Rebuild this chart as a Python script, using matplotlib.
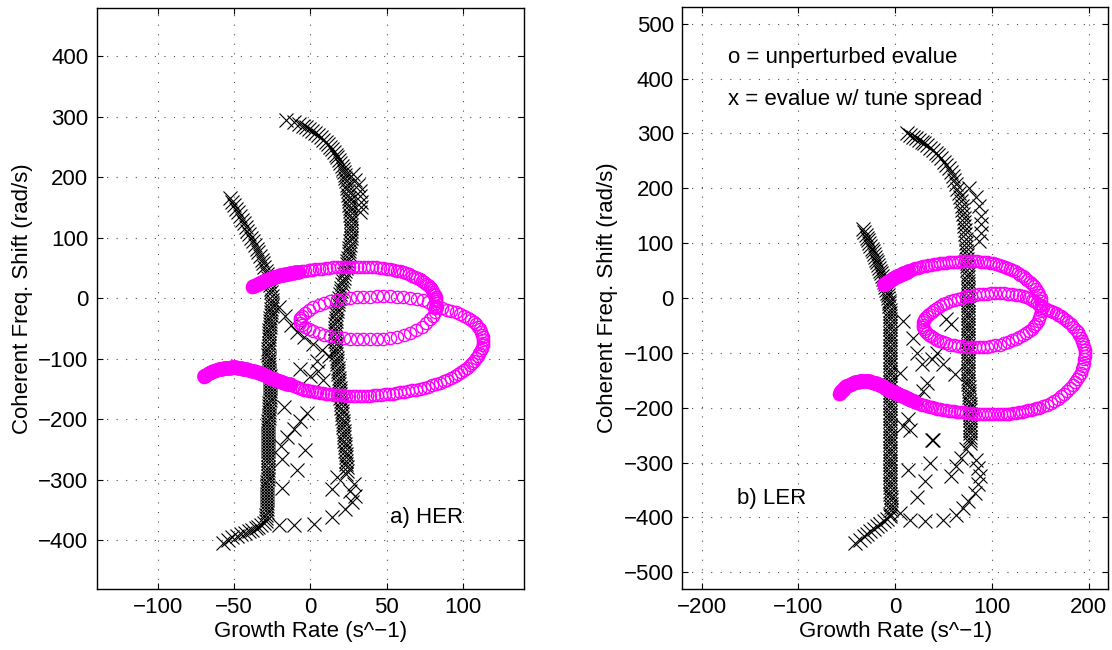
import numpy as np
import matplotlib
matplotlib.use("Agg")
import matplotlib.pyplot as plt

plt.rcParams['font.family'] = ['Liberation Sans', 'DejaVu Sans']

# ---------------- a) HER : unperturbed eigenvalues (o) ----------------
her_o_top = [(-38.0, 19.3), (-36.6, 21.2), (-35.2, 23.0), (-33.8, 24.8), (-32.4, 26.6), (-31.0, 28.2),
             (-29.6, 29.8), (-28.2, 31.3), (-26.7, 32.7), (-25.2, 34.0), (-23.7, 35.2), (-22.2, 36.3),
             (-20.6, 37.3), (-19.0, 38.3), (-17.4, 39.2), (-15.8, 40.1), (-14.2, 40.9), (-12.5, 41.7),
             (-10.8, 42.5), (-9.0, 43.3), (-7.2, 44.0), (-5.3, 44.8), (-3.3, 45.6), (-1.2, 46.4),
             (0.9, 47.2), (3.1, 47.9), (5.4, 48.6), (7.7, 49.3), (10.1, 49.9), (12.5, 50.5),
             (14.9, 51.0), (17.4, 51.4), (19.9, 51.8), (22.4, 52.1), (25.0, 52.3), (27.6, 52.4),
             (30.2, 52.5), (32.8, 52.4), (35.4, 52.2), (38.0, 51.9), (40.6, 51.5), (43.1, 51.0),
             (45.5, 50.4), (47.8, 49.8), (50.1, 49.0), (52.3, 48.1), (54.5, 47.0), (56.6, 45.8),
             (58.7, 44.4), (60.8, 42.9), (62.8, 41.3), (64.7, 39.5), (66.6, 37.6), (68.4, 35.6),
             (70.1, 33.5), (71.7, 31.3), (73.2, 29.0), (74.6, 26.6), (75.9, 24.2), (77.1, 21.6),
             (78.1, 19.0), (79.0, 16.3), (79.8, 13.5), (80.5, 10.7), (81.1, 7.8), (81.6, 4.9),
             (82.0, 2.0), (82.3, -0.9)]
her_o_top_dense = [(-37.3, 20.25), (-35.9, 22.1), (-34.5, 23.9), (-33.1, 25.7), (-31.7, 27.4),
                   (-30.3, 29.0), (-28.9, 30.55), (-27.45, 32.0), (-25.95, 33.35), (-24.45, 34.6),
                   (-22.95, 35.75), (-21.4, 36.8), (-19.8, 37.8), (-18.2, 38.75), (-16.6, 39.65),
                   (-15.0, 40.5), (-13.35, 41.3), (-11.65, 42.1), (-9.9, 42.9), (-8.1, 43.65)]
her_o_loop = [(82.5, -4.0), (82.5, -8.0), (82.3, -12.0), (81.9, -16.5), (81.5, -22.0), (80.2, -28.5),
              (78.3, -34.7), (75.8, -41.0), (72.8, -46.8), (69.2, -52.0), (65.2, -56.7), (61.0, -60.3),
              (56.5, -63.3), (52.2, -65.2), (47.8, -66.6), (43.5, -67.3), (39.1, -67.7), (34.7, -67.6),
              (30.4, -67.2), (26.0, -66.5), (21.7, -65.5), (17.3, -64.0), (13.0, -62.2), (9.1, -60.2),
              (5.4, -57.8), (2.0, -54.7), (-1.1, -51.2), (-3.5, -47.8), (-5.4, -44.1), (-6.5, -40.0),
              (-7.0, -35.8), (-6.5, -32.0), (-5.4, -28.6), (-3.5, -23.8), (-1.1, -19.3), (2.0, -15.0),
              (5.4, -11.0), (9.1, -7.5), (13.0, -4.4), (17.3, -2.3), (21.7, -0.6), (26.0, 0.6),
              (30.4, 1.7), (34.7, 2.4), (39.1, 2.8), (43.5, 3.1), (47.8, 3.3), (52.2, 3.2),
              (56.5, 2.8), (60.9, 2.1), (65.2, 1.1), (69.6, -0.6), (73.9, -2.8), (77.2, -5.5)]
her_o_tail = [(-70.0, -129.5), (-68.8, -127.0), (-67.5, -124.8), (-66.0, -122.8), (-64.4, -121.0),
              (-62.7, -119.4), (-61.0, -118.2), (-59.3, -117.0), (-57.5, -116.0), (-55.7, -115.2),
              (-53.9, -114.6), (-52.1, -114.2), (-50.3, -114.1), (-48.5, -114.3), (-46.7, -114.8),
              (-44.9, -115.6), (-43.1, -116.5), (-41.3, -117.5), (-39.5, -118.8), (-37.7, -120.1),
              (-35.9, -121.5), (-34.1, -123.0), (-32.3, -124.6), (-30.5, -126.4), (-28.7, -128.3),
              (-26.9, -130.1), (-25.1, -131.9), (-23.3, -133.7), (-21.5, -135.4), (-19.7, -137.1),
              (-17.9, -138.7), (-16.1, -140.2), (-14.3, -141.7), (-12.5, -143.1), (-10.8, -145.0),
              (-9.1, -146.6), (-7.4, -148.0), (-5.7, -149.5), (-4.0, -150.7), (-2.3, -151.8),
              (-0.6, -152.8), (1.1, -153.8), (2.8, -154.7), (4.5, -155.5), (6.3, -156.3),
              (8.1, -157.0), (9.9, -157.6), (11.7, -158.2), (13.6, -158.7), (15.5, -159.2),
              (17.4, -159.7), (19.4, -160.1), (21.4, -160.5), (23.5, -160.9), (25.6, -161.2),
              (27.8, -161.4), (30.0, -161.5), (32.2, -161.5), (34.5, -161.4), (36.8, -161.2),
              (39.1, -160.9), (41.5, -160.5), (43.9, -160.0), (46.3, -159.4), (48.8, -158.8),
              (51.3, -158.1), (53.8, -157.3), (56.3, -156.5), (58.8, -155.6), (61.3, -154.6),
              (63.9, -153.5), (66.5, -152.3), (69.1, -150.9), (71.7, -149.3), (74.3, -147.6),
              (76.9, -145.8), (79.5, -143.8), (82.1, -141.6), (84.7, -139.3), (87.3, -136.8),
              (89.8, -134.2), (92.2, -131.4), (94.5, -128.4), (96.7, -125.2), (98.8, -121.9),
              (100.8, -118.4), (102.6, -114.8), (104.3, -111.0), (105.8, -107.1), (107.2, -103.1),
              (108.5, -99.0), (109.6, -94.8), (110.6, -90.5), (111.5, -86.2), (112.2, -81.8),
              (112.8, -77.4), (113.1, -73.0), (113.2, -68.6), (113.0, -64.2), (112.6, -59.8),
              (112.0, -55.5), (111.1, -51.3), (110.0, -47.2), (108.6, -43.2), (107.0, -39.4),
              (105.1, -35.7), (103.0, -32.2), (100.6, -29.0), (98.0, -26.0), (95.2, -23.3),
              (92.3, -20.8), (89.3, -18.6), (86.2, -16.6), (83.1, -14.8), (80.0, -13.2)]
her_o_tail_dense = [(-69.4, -128.2), (-68.15, -125.9), (-66.75, -123.8), (-65.2, -121.9), (-63.55, -120.2),
                    (-61.85, -118.8), (-60.15, -117.6), (-58.4, -116.5), (-56.6, -115.6), (-54.8, -114.9),
                    (-53.0, -114.4), (-51.2, -114.15), (-49.4, -114.2), (-47.6, -114.55), (-45.8, -115.2),
                    (-44.0, -116.05), (-42.2, -117.0), (-40.4, -118.15), (-38.6, -119.45), (-36.8, -120.8),
                    (-35.0, -122.25), (-33.2, -123.8), (-31.4, -125.5), (-29.6, -127.35), (-27.8, -129.2),
                    (-26.0, -131.0), (-24.2, -132.8), (-22.4, -134.55), (-20.6, -136.25), (-18.8, -137.9),
                    (-17.0, -139.45), (-15.2, -140.95), (-13.4, -142.4)]

# ---------------- a) HER : eigenvalues with tune spread (x) ----------------
her_x_left = [(-52.6, 166), (-51.3, 160), (-50.0, 154), (-48.7, 148), (-47.4, 142), (-46.1, 136),
              (-44.9, 130), (-43.7, 124), (-42.5, 118), (-41.3, 112), (-40.1, 106), (-38.9, 100),
              (-37.7, 94), (-36.5, 88), (-35.3, 82), (-34.1, 76), (-33.0, 70), (-32.0, 64),
              (-31.1, 58), (-30.2, 52), (-29.3, 46), (-28.6, 40), (-27.9, 34), (-27.2, 28),
              (-26.6, 22), (-26.0, 16), (-25.6, 10), (-25.3, 4), (-25.1, -2), (-25.3, -8),
              (-25.4, -13), (-25.6, -18), (-25.8, -23), (-26.0, -28), (-26.2, -33), (-26.4, -38),
              (-26.6, -43), (-26.8, -48), (-27.0, -53), (-27.1, -58), (-27.2, -63), (-27.3, -68),
              (-27.4, -73), (-27.4, -78), (-27.5, -83), (-27.5, -88), (-27.5, -93), (-27.4, -98),
              (-27.3, -103), (-27.2, -108), (-27.1, -113), (-27.0, -118), (-26.9, -123), (-26.8, -128),
              (-26.7, -133), (-26.6, -138), (-26.5, -143), (-26.5, -148), (-26.5, -153), (-26.6, -158),
              (-26.7, -163), (-26.8, -168), (-26.9, -173), (-27.0, -178), (-27.1, -183), (-27.2, -188),
              (-27.3, -193), (-27.4, -198), (-27.5, -203), (-27.6, -208), (-27.6, -213), (-27.7, -218),
              (-27.7, -223), (-27.8, -228), (-27.8, -233), (-27.8, -238), (-27.8, -243), (-27.8, -248),
              (-27.8, -253), (-27.8, -258), (-27.8, -263), (-27.8, -268), (-27.9, -273), (-27.9, -278),
              (-28.0, -283), (-28.0, -288), (-28.1, -293), (-28.1, -298), (-28.2, -303), (-28.2, -308),
              (-28.3, -313), (-28.3, -318), (-28.4, -323), (-28.4, -328), (-28.5, -333), (-28.5, -338),
              (-28.6, -343), (-28.6, -348), (-28.7, -353), (-28.8, -358), (-28.9, -363), (-29.2, -368),
              (-30.5, -371), (-32.6, -374.7), (-34.2, -377.5), (-35.9, -380), (-38.0, -382.5),
              (-40.2, -385), (-43.0, -387.3), (-45.7, -389.6), (-48.4, -392.2), (-51.1, -395),
              (-54.3, -399.5), (-57.6, -404)]
her_x_right = [(-15.7, 294.6), (-10.5, 291.0), (-7.5, 288.0), (-5.0, 285.5), (-2.8, 282.5), (-0.7, 279.5),
               (1.3, 276.3), (3.2, 273.0), (5.0, 269.5), (6.7, 266.0), (8.4, 262.3), (10.0, 258.5),
               (11.5, 254.6), (12.9, 250.5), (14.2, 246.3), (15.5, 242.0), (16.6, 237.6), (17.7, 233.1),
               (18.7, 228.5), (19.6, 223.8), (20.4, 219.0), (21.1, 214.1), (21.8, 209.1), (22.4, 204.0),
               (22.9, 198.8), (23.4, 193.5), (23.8, 188.0), (24.2, 182.5), (24.6, 177.0), (24.9, 171.5),
               (25.2, 166.0), (25.4, 160.5), (25.6, 155.0), (25.8, 149.5), (26.0, 144.0), (26.2, 138.5),
               (26.3, 133.0), (26.4, 127.5), (26.5, 122.0), (26.5, 116.5), (26.5, 111.0), (26.4, 105.5),
               (26.3, 100.0), (26.1, 94.5), (25.9, 89.0), (25.6, 83.5), (25.3, 78.0), (25.0, 72.5),
               (24.6, 67.0), (24.2, 61.5), (23.8, 56.0), (23.3, 50.5), (22.8, 45.0), (22.3, 39.5),
               (21.8, 34.0), (21.3, 28.5), (20.8, 23.0), (20.3, 17.5), (19.8, 12.0), (19.3, 6.5),
               (18.8, 1.0), (18.4, -4.5), (18.0, -10.0), (17.6, -15.5), (17.3, -21.0), (17.0, -26.5),
               (16.8, -32.0), (16.6, -37.5), (16.4, -43.0), (16.3, -48.5), (16.2, -54.0), (16.2, -59.5),
               (16.3, -65.0), (16.4, -70.5), (16.5, -76.0), (16.6, -81.5), (16.8, -87.0), (17.0, -92.5),
               (17.2, -98.0), (17.4, -103.5), (17.6, -109.0), (17.8, -114.5), (18.0, -120.0), (18.2, -125.5),
               (18.5, -131.0), (18.7, -136.5), (18.9, -142.0), (19.1, -147.5), (19.3, -153.0), (19.5, -158.5),
               (19.7, -164.0), (19.9, -169.5), (20.1, -175.0), (20.3, -180.5), (20.5, -186.0), (20.7, -191.5),
               (20.9, -197.0), (21.1, -202.5), (21.3, -208.0), (21.5, -213.5), (21.7, -219.0), (21.9, -224.5),
               (22.1, -230.0), (22.3, -235.5), (22.5, -241.0), (22.7, -246.5), (22.9, -252.0), (23.1, -257.5),
               (23.3, -263.0), (23.5, -268.5), (23.6, -274.0), (23.7, -279.5), (23.7, -285.0), (23.6, -290.5)]
her_x_scatter = [(28.0, 205), (29.5, 196), (31.0, 187), (32.2, 178), (32.8, 169), (33.0, 160),
                 (33.0, 151), (32.5, 143),
                 (-20.7, -14), (-16.5, -29), (-13.0, -44), (-8.5, -55), (-4.3, -64), (2.0, -76),
                 (7.6, -86), (12.0, -96), (4.5, -103), (-6.5, -116), (0.0, -128), (5.0, -120),
                 (8.0, -135), (-17.4, -179), (-2.2, -189), (-6.5, -203), (-10.9, -216), (-15.2, -230),
                 (-19.6, -244), (-3.3, -250), (-18.5, -266), (-8.7, -284), (-18.5, -313),
                 (17.4, -296), (14.1, -315), (28.3, -307), (26.1, -318), (29.3, -326), (27.2, -337),
                 (22.8, -348), (14.1, -362), (2.2, -373), (-10.9, -375), (-20.7, -375)]

# ---------------- b) LER : unperturbed eigenvalues (o) ----------------
ler_o_top = [(-12.0, 24.2), (-10.4, 26.2), (-8.8, 28.1), (-7.2, 30.0), (-5.6, 31.8), (-4.0, 33.6),
             (-2.4, 35.3), (-0.8, 36.9), (0.9, 38.5), (2.6, 40.0), (4.3, 41.5), (6.0, 42.9),
             (7.7, 44.3), (9.4, 45.7), (11.1, 47.0), (12.8, 48.3), (14.5, 49.6), (16.3, 50.9),
             (18.6, 52.4), (21.0, 53.8), (23.5, 55.1), (26.1, 56.4), (28.8, 57.6), (31.5, 58.7),
             (34.3, 59.7), (37.2, 60.7), (40.1, 61.6), (43.1, 62.4), (46.1, 63.2), (49.2, 63.9),
             (52.3, 64.6), (55.5, 65.2), (58.7, 65.7), (61.9, 66.1), (65.2, 66.5), (68.5, 66.7),
             (71.8, 66.9), (75.1, 67.0), (78.4, 67.0), (81.7, 66.9), (85.0, 66.6), (88.3, 66.2),
             (91.6, 65.6), (94.9, 64.9), (98.2, 64.0), (101.4, 63.0), (104.6, 61.7), (107.7, 60.3),
             (110.7, 58.7), (113.6, 56.9), (116.0, 54.9), (118.2, 52.7), (121.0, 50.6), (123.8, 48.3),
             (126.5, 45.8), (129.2, 42.7), (131.8, 39.4), (134.3, 35.9), (136.7, 32.2), (139.0, 28.6),
             (141.4, 24.9), (143.8, 21.2), (145.6, 16.0), (147.3, 10.7), (148.9, 5.3)]
ler_o_top_dense = [(-11.2, 25.2), (-9.6, 27.15), (-8.0, 29.05), (-6.4, 30.9), (-4.8, 32.7), (-3.2, 34.45),
                   (-1.6, 36.1), (0.05, 37.7), (1.75, 39.25), (3.45, 40.75), (5.15, 42.2), (6.85, 43.6),
                   (8.55, 45.0), (10.25, 46.35), (11.95, 47.65), (13.65, 48.95)]
ler_o_loop = [(150.7, 0.0), (151.0, -6.0), (151.1, -12.0), (151.0, -18.0), (150.7, -24.2), (150.0, -30.4),
              (149.0, -36.5), (147.3, -42.4), (145.4, -47.2), (143.3, -51.8), (141.1, -56.3), (138.7, -60.6),
              (135.4, -64.3), (132.0, -67.9), (128.5, -71.3), (125.0, -74.5), (120.9, -77.4), (116.7, -80.0),
              (112.4, -82.6), (107.9, -84.8), (103.6, -86.3), (99.3, -87.7), (95.1, -88.8), (90.8, -89.7),
              (86.5, -89.9), (82.2, -89.9), (77.9, -89.6), (73.6, -89.1), (69.3, -88.3), (65.0, -87.3),
              (60.7, -86.1), (56.5, -84.8), (52.8, -82.8), (49.3, -80.7), (46.0, -78.3), (42.8, -75.8),
              (40.0, -72.9), (37.3, -70.0), (34.8, -66.9), (32.5, -63.6), (30.8, -59.8), (29.5, -56.0),
              (28.8, -52.2), (28.4, -48.5), (28.6, -44.6), (29.5, -40.8), (30.8, -37.0), (32.5, -33.3),
              (35.0, -29.4), (37.7, -25.6), (40.2, -21.8), (42.8, -18.2), (46.0, -14.9), (49.3, -11.8),
              (52.8, -8.9), (56.5, -6.1), (60.7, -3.6), (65.0, -1.4), (69.3, 0.8), (73.6, 3.0),
              (77.9, 4.3), (82.2, 5.4), (86.5, 6.4), (90.8, 7.3), (95.1, 8.0), (99.3, 8.5),
              (103.6, 8.9), (107.9, 9.1), (112.2, 8.8), (116.5, 8.1), (120.8, 7.2), (125.0, 6.1),
              (128.5, 4.8), (132.0, 3.3), (135.4, 1.7), (138.7, 0.0), (141.4, -2.8), (144.0, -5.8),
              (146.6, -8.9), (149.0, -12.1), (152.4, -16.0)]
ler_o_tail = [(-58.2, -175.8), (-56.8, -172.0), (-55.2, -168.5), (-53.4, -165.3), (-51.4, -162.5),
              (-49.3, -160.0), (-47.1, -158.0), (-44.8, -156.2), (-42.5, -154.7), (-40.1, -153.3),
              (-37.7, -152.2), (-35.3, -151.4), (-32.9, -151.0), (-30.5, -151.0), (-28.1, -151.4),
              (-25.7, -152.1), (-23.4, -153.4), (-21.1, -154.8), (-18.8, -156.4), (-16.5, -158.1),
              (-14.2, -159.9), (-11.9, -161.8), (-9.6, -164.6), (-7.3, -166.5), (-5.0, -168.4),
              (-2.7, -170.3), (-0.4, -172.2), (1.9, -174.1), (4.2, -176.1), (6.5, -178.1),
              (8.8, -180.1), (11.1, -182.1), (13.4, -184.0), (15.7, -185.8), (18.0, -187.6),
              (20.3, -189.3), (22.8, -191.0), (25.3, -192.6), (27.8, -194.2), (30.3, -195.7),
              (32.9, -197.1), (35.5, -198.3), (38.2, -199.5), (40.9, -200.6), (43.7, -201.7),
              (46.5, -202.7), (49.4, -203.6), (52.3, -204.5), (55.2, -205.3), (58.2, -206.1),
              (61.2, -206.8), (64.2, -207.5), (67.3, -208.1), (70.4, -208.7), (73.5, -209.3),
              (76.6, -209.8), (79.8, -210.3), (83.0, -210.8), (86.2, -211.2), (89.4, -211.6),
              (92.6, -211.9), (95.9, -212.1), (99.2, -212.2), (102.5, -212.2), (105.8, -212.0),
              (109.1, -211.7), (112.4, -211.3), (115.7, -210.8), (118.0, -210.6), (121.3, -210.0),
              (124.6, -209.3), (127.8, -208.5), (131.0, -207.6), (134.2, -206.2), (137.3, -204.8),
              (140.4, -203.3), (143.4, -201.9), (146.3, -200.6), (149.0, -200.0), (152.9, -197.2),
              (156.8, -194.2), (160.6, -191.1), (164.4, -187.9), (168.0, -183.6), (171.5, -179.2),
              (174.8, -174.6), (178.0, -169.7), (180.8, -164.6), (183.5, -159.4), (186.0, -154.0),
              (188.4, -148.5), (190.2, -142.5), (191.8, -136.4), (193.1, -130.3), (194.2, -124.2),
              (195.0, -118.2), (195.6, -112.1), (196.0, -106.0), (196.2, -100.0), (196.0, -94.7),
              (195.5, -89.4), (194.6, -84.1), (193.5, -78.8), (192.0, -73.5), (190.4, -68.2),
              (188.6, -62.9), (186.6, -57.6), (184.2, -52.8), (181.7, -48.1), (179.1, -43.7),
              (176.4, -39.4), (173.9, -36.1), (171.3, -33.0), (168.7, -30.1), (166.1, -27.3),
              (163.5, -25.3), (160.9, -23.3), (158.4, -21.6), (155.8, -20.0)]
ler_o_tail_dense = [(-57.5, -173.9), (-56.0, -170.25), (-54.3, -166.9), (-52.4, -163.9), (-50.35, -161.25),
                    (-48.2, -159.0), (-45.95, -157.1), (-43.65, -155.45), (-41.3, -154.0), (-38.9, -152.75),
                    (-36.5, -151.8), (-34.1, -151.2), (-31.7, -151.0), (-29.3, -151.2), (-26.9, -151.75),
                    (-24.55, -152.75), (-22.25, -154.1), (-19.95, -155.6), (-17.65, -157.25), (-15.35, -159.0),
                    (-13.05, -160.85), (-10.75, -163.2), (-8.45, -165.55), (-6.15, -167.45), (-3.85, -169.35),
                    (-1.55, -171.25), (0.75, -173.15), (3.05, -175.1), (5.35, -177.1), (7.65, -179.1),
                    (9.95, -181.1), (12.25, -183.05), (14.55, -184.9), (16.85, -186.7), (19.15, -188.45)]

# ---------------- b) LER : eigenvalues with tune spread (x) ----------------
ler_x_left = [(-33.3, 125), (-31.9, 120), (-30.5, 115), (-29.2, 110), (-27.9, 105), (-26.7, 100),
              (-25.5, 95), (-24.4, 90), (-23.3, 85), (-22.2, 80), (-21.1, 75), (-20.0, 70),
              (-18.9, 65), (-17.9, 60), (-16.8, 55), (-15.7, 50), (-14.7, 45), (-13.7, 40),
              (-12.7, 35), (-11.8, 30), (-10.9, 25), (-10.0, 20), (-9.2, 15), (-8.5, 10),
              (-7.8, 5), (-7.2, 0), (-6.7, -5), (-6.3, -10), (-6.0, -15), (-5.8, -21),
              (-5.6, -27), (-5.5, -33), (-5.4, -39), (-5.3, -45), (-5.3, -51), (-5.2, -57),
              (-5.2, -63), (-5.2, -69), (-5.2, -75), (-5.2, -81), (-5.2, -87), (-5.2, -93),
              (-5.2, -99), (-5.2, -105), (-5.2, -111), (-5.2, -117), (-5.2, -123), (-5.2, -129),
              (-5.2, -135), (-5.2, -141), (-5.2, -147), (-5.3, -153), (-5.3, -159), (-5.3, -165),
              (-5.3, -171), (-5.4, -177), (-5.4, -183), (-5.4, -189), (-5.5, -195), (-5.5, -201),
              (-5.5, -207), (-5.6, -213), (-5.6, -219), (-5.7, -225), (-5.7, -231), (-5.8, -237),
              (-5.8, -243), (-5.8, -249), (-5.8, -255), (-5.8, -261), (-5.8, -267), (-5.8, -273),
              (-5.8, -279), (-5.8, -285), (-5.8, -291), (-5.8, -297), (-5.8, -303), (-5.8, -309),
              (-5.8, -315), (-5.8, -321), (-5.8, -327), (-5.7, -333), (-5.5, -339), (-5.3, -345),
              (-5.1, -351), (-4.9, -357), (-4.7, -363), (-4.6, -369), (-4.5, -375), (-4.5, -381),
              (-4.7, -387), (-4.9, -393), (-5.1, -398), (-8.0, -403), (-12.0, -407), (-15.4, -411.5),
              (-18.8, -416), (-22.2, -420.8), (-25.7, -425.6), (-29.1, -430.2), (-32.5, -434.8),
              (-36.8, -441), (-41.0, -447)]
ler_x_right = [(12.0, 300.0), (15.5, 297.2), (18.8, 294.0), (21.6, 291.0), (24.5, 288.0), (27.4, 285.0),
               (30.2, 282.0), (33.1, 278.2), (36.0, 274.2), (38.8, 270.0), (41.7, 265.2), (44.6, 260.0),
               (47.4, 254.7), (50.1, 248.8), (52.7, 242.8), (55.3, 236.6), (57.4, 229.6), (59.4, 222.5),
               (61.2, 215.4), (62.7, 207.4), (64.2, 199.3), (65.6, 191.3), (66.8, 183.6), (67.9, 176.0),
               (68.9, 168.5), (69.1, 161.0), (70.0, 153.5), (70.7, 146.0), (71.1, 138.5), (71.5, 131.0),
               (72.0, 123.5), (72.4, 116.0), (72.8, 108.4), (73.2, 100.8), (73.4, 93.2), (73.6, 85.7),
               (73.8, 78.1), (73.9, 70.6), (74.2, 64.0), (74.4, 57.5), (74.6, 51.0), (74.8, 44.5),
               (74.9, 38.0), (75.0, 31.5), (75.2, 25.0), (75.3, 18.5), (75.4, 12.0), (75.5, 5.5),
               (75.6, -1.0), (75.6, -7), (75.6, -13), (75.5, -19), (75.5, -25), (75.4, -31),
               (75.4, -37), (75.3, -43), (75.3, -49), (75.3, -55), (75.3, -61), (75.3, -67),
               (75.3, -73), (75.3, -79), (75.3, -85), (75.3, -91), (75.3, -97), (75.3, -103),
               (75.3, -109), (75.3, -115), (75.3, -121), (75.3, -127), (75.3, -133), (75.3, -139),
               (75.3, -145), (75.5, -151), (75.7, -157), (75.9, -163), (76.1, -169), (76.3, -175),
               (76.5, -181), (76.7, -187), (76.9, -193), (77.0, -199), (77.0, -205), (77.0, -211),
               (77.0, -217), (77.0, -223), (77.0, -229), (77.0, -235), (77.0, -241), (77.0, -247),
               (77.0, -253), (77.0, -259), (77.0, -265)]
ler_x_scatter = [(76.6, 200), (83.5, 185), (87.0, 167), (88.7, 149), (88.7, 134), (88.7, 119), (87.0, 104),
                 (8.6, -42), (18.8, -73), (22.3, -100), (5.1, -136), (27.4, -121), (37.7, -112),
                 (42.8, -100), (49.7, -121), (61.6, -139), (32.5, -155), (29.1, -170), (22.3, -185),
                 (13.7, -221), (8.6, -233), (39.4, -258), (53.0, -39), (58.0, -48), (15.4, -240),
                 (37.7, -258), (36.0, -301), (13.7, -313), (30.8, -334), (22.3, -362),
                 (73.6, -276), (68.5, -291), (63.4, -307), (58.2, -325), (83.9, -295), (85.6, -310),
                 (87.3, -325), (85.6, -340), (82.2, -356), (75.3, -371), (70.2, -383), (63.4, -395),
                 (49.7, -404), (30.8, -407), (15.4, -404), (5.1, -392)]

X_LABEL = 'Growth Rate (s^\u22121)'
Y_LABEL = 'Coherent Freq. Shift (rad/s)'
FS = 16
MAGENTA = '#ff00ff'


def draw_panel(ax, o_parts, o_dense, x_parts):
    for part in x_parts:
        pts = np.array(part, dtype=float)
        ax.plot(pts[:, 0], pts[:, 1], linestyle='none', marker='x', color='k',
                markersize=9.5, markeredgewidth=0.8, zorder=2)
    for part in o_parts:
        pts = np.array(part, dtype=float)
        ax.plot(pts[:, 0], pts[:, 1], linestyle='none', marker='o', markerfacecolor='none',
                markeredgecolor=MAGENTA, markersize=8.8, markeredgewidth=1.0, zorder=3)
    # the slowly moving ends of the trace, where the circles pile up into a solid band
    for part in o_dense:
        pts = np.array(part, dtype=float)
        ax.plot(pts[:, 0], pts[:, 1], linestyle='none', marker='o', markerfacecolor='none',
                markeredgecolor=MAGENTA, markersize=8.0, markeredgewidth=2.6, zorder=3)
    ax.grid(True, color='0.3', linestyle=(0, (1, 7.6)), linewidth=0.8)
    ax.tick_params(direction='in', top=True, right=True, length=4, width=0.8,
                   labelsize=FS, pad=6)
    for s in ax.spines.values():
        s.set_linewidth(1.0)
    ax.set_xlabel(X_LABEL, fontsize=FS, labelpad=2)
    ax.set_ylabel(Y_LABEL, fontsize=FS, labelpad=4)


fig = plt.figure(figsize=(11.12, 6.5), dpi=100)
ax1 = fig.add_axes([0.0870, 0.0943, 0.3843, 0.8934])
ax2 = fig.add_axes([0.6136, 0.0943, 0.3828, 0.8945])

draw_panel(ax1, [her_o_top, her_o_loop, her_o_tail], [her_o_top_dense, her_o_tail_dense],
           [her_x_left, her_x_right, her_x_scatter])
ax1.set_xlim(-140, 140)
ax1.set_ylim(-480, 480)
ax1.set_xticks([-100, -50, 0, 50, 100])
ax1.set_yticks(np.arange(-400, 401, 100))
ax1.text(52, -362, 'a) HER', fontsize=FS, va='center', ha='left')

draw_panel(ax2, [ler_o_top, ler_o_loop, ler_o_tail], [ler_o_top_dense, ler_o_tail_dense],
           [ler_x_left, ler_x_right, ler_x_scatter])
ax2.set_xlim(-220, 220)
ax2.set_ylim(-530, 530)
ax2.set_xticks([-200, -100, 0, 100, 200])
ax2.set_yticks(np.arange(-500, 501, 100))
ax2.text(-163, -366, 'b) LER', fontsize=FS, va='center', ha='left')
ax2.text(-173, 438, 'o = unperturbed evalue', fontsize=FS, va='center', ha='left')
ax2.text(-173, 362, 'x = evalue w/ tune spread', fontsize=FS, va='center', ha='left')

fig.savefig('out.png', dpi=100)
